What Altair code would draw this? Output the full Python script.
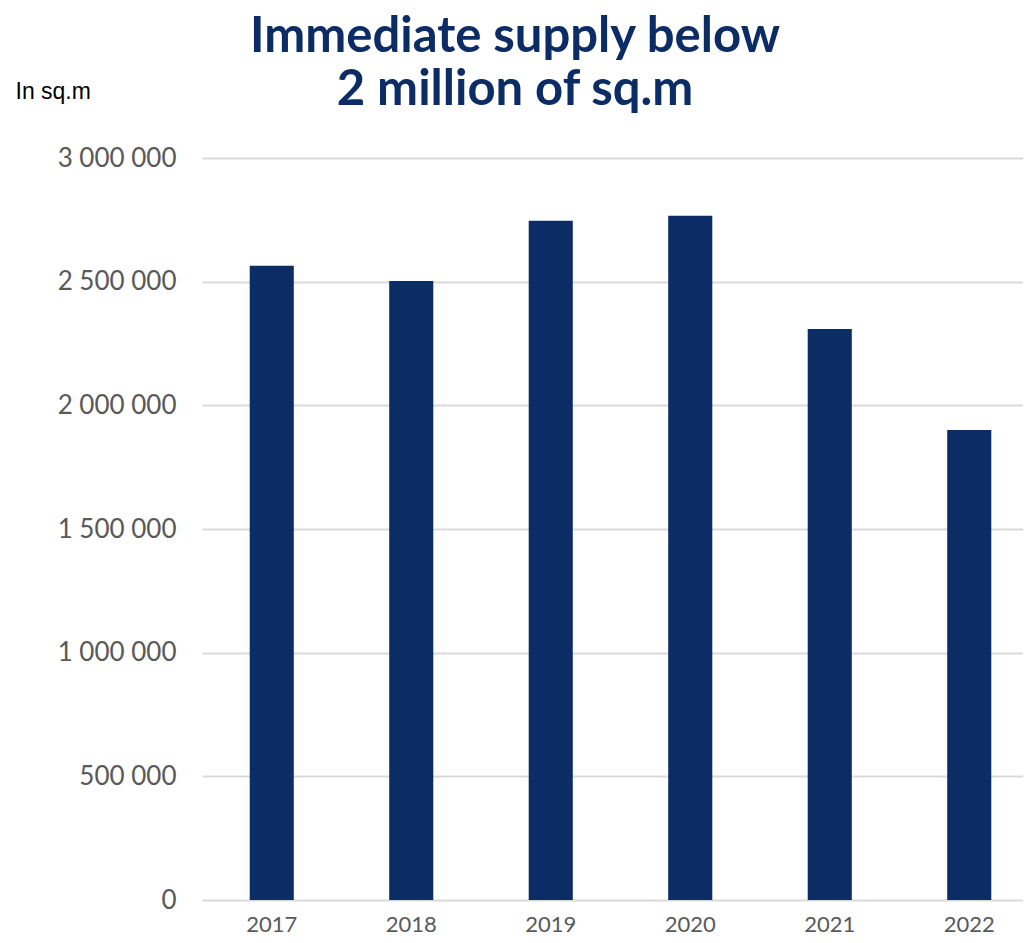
import altair as alt
import pandas as pd

years = ["2017", "2018", "2019", "2020", "2021", "2022"]
supply = [2564000, 2503000, 2746000, 2767000, 2309000, 1900000]
y_ticks = [0, 500000, 1000000, 1500000, 2000000, 2500000, 3000000]
title_lines = ["Immediate supply below", "2 million of sq.m"]
unit_label = "In sq.m"

NAVY = "#0B2C65"
GREY = "#595959"

df = pd.DataFrame({"year": years, "supply": supply})

chart = (
    alt.Chart(df)
    .mark_bar(color=NAVY)
    .encode(
        x=alt.X(
            "year:N",
            sort=years,
            scale=alt.Scale(range=[-1, 836], paddingInner=0.684, paddingOuter=0.342),
            axis=alt.Axis(
                title=None,
                labelAngle=0,
                labelFont="Lato",
                labelFontSize=22,
                labelColor=GREY,
                labelPadding=14,
                ticks=False,
                domain=False,
                grid=False,
            ),
        ),
        y=alt.Y(
            "supply:Q",
            scale=alt.Scale(domain=[0, 3000000], nice=False),
            axis=alt.Axis(
                title=unit_label,
                titleAngle=0,
                titleAlign="left",
                titleBaseline="alphabetic",
                titleX=-188,
                titleY=-60,
                titleFont="Liberation Sans",
                titleFontSize=23,
                titleFontWeight="normal",
                titleColor="#000000",
                values=y_ticks,
                labelExpr="replace(replace(format(datum.value, ','), ',', ' '), ',', ' ')",
                labelFont="Lato",
                labelFontSize=26,
                labelColor=GREY,
                labelPadding=27,
                ticks=False,
                domain=False,
                grid=True,
                gridColor="#D9D9D9",
                gridWidth=2,
            ),
        ),
    )
    .properties(
        width=820,
        height=742,
        autosize=alt.AutoSizeParams(type="none"),
        padding={"left": 195, "top": 150, "right": 0, "bottom": 35},
        title=alt.TitleParams(
            text=title_lines,
            font="Lato",
            fontSize=49,
            fontWeight="bold",
            color=NAVY,
            anchor="middle",
            dx=-98,
            dy=55,
            lineHeight=53,
            offset=20,
        ),
    )
    .configure_view(stroke=None)
)

chart.save("out.html", embed_options={"renderer": "svg", "actions": False})
